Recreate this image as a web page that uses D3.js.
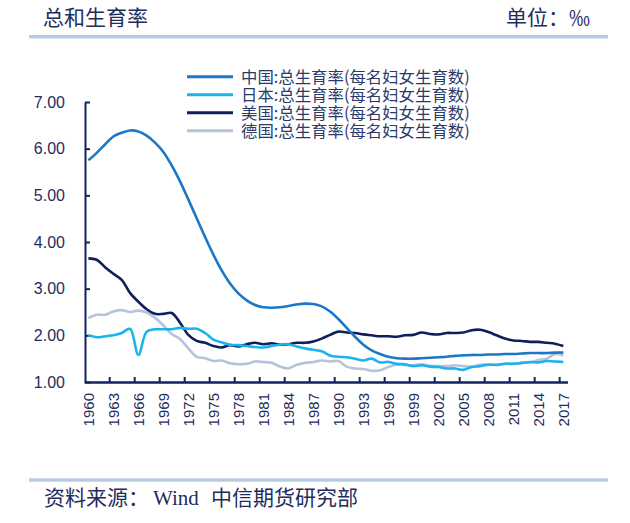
<!DOCTYPE html>
<html lang="zh">
<head>
<meta charset="UTF-8">
<title>总和生育率</title>
<style>
  body { margin: 0; background: #fff; }
  svg { display: block; }
</style>
</head>
<body>
<div id="chart"></div>
<script src="https://d3js.org/d3.v7.min.js"></script>
<script>
// years 1960..2017
var years = d3.range(1960, 2018);

var china = [5.75, 5.91, 6.09, 6.26, 6.34, 6.39, 6.37, 6.28, 6.13, 5.93,
  5.64, 5.30, 4.91, 4.51, 4.11, 3.73, 3.39, 3.11, 2.90, 2.75,
  2.65, 2.60, 2.59, 2.60, 2.63, 2.66, 2.68, 2.67, 2.62, 2.51,
  2.35, 2.16, 1.97, 1.80, 1.68, 1.60, 1.54, 1.51, 1.50, 1.50,
  1.51, 1.52, 1.53, 1.54, 1.56, 1.57, 1.58, 1.58, 1.59, 1.59,
  1.60, 1.60, 1.61, 1.62, 1.62, 1.62, 1.63, 1.63];
var japan = [2.00, 1.96, 1.98, 2.00, 2.05, 2.14, 1.58, 2.08, 2.13, 2.13,
  2.13, 2.16, 2.14, 2.14, 2.05, 1.91, 1.85, 1.80, 1.79, 1.77,
  1.75, 1.74, 1.77, 1.80, 1.81, 1.76, 1.72, 1.69, 1.66, 1.57,
  1.54, 1.53, 1.50, 1.46, 1.50, 1.42, 1.43, 1.39, 1.38, 1.34,
  1.36, 1.33, 1.32, 1.29, 1.29, 1.26, 1.32, 1.34, 1.37, 1.37,
  1.39, 1.39, 1.41, 1.43, 1.42, 1.45, 1.44, 1.43];
var usa = [3.65, 3.62, 3.46, 3.32, 3.19, 2.91, 2.72, 2.56, 2.46, 2.46,
  2.48, 2.27, 2.01, 1.88, 1.84, 1.77, 1.74, 1.79, 1.76, 1.81,
  1.84, 1.81, 1.83, 1.80, 1.81, 1.84, 1.84, 1.87, 1.93, 2.01,
  2.08, 2.06, 2.05, 2.02, 2.00, 1.98, 1.98, 1.97, 2.00, 2.01,
  2.06, 2.03, 2.02, 2.05, 2.05, 2.06, 2.11, 2.12, 2.07, 2.00,
  1.93, 1.89, 1.88, 1.86, 1.86, 1.84, 1.82, 1.77];
var germany = [2.37, 2.44, 2.44, 2.51, 2.54, 2.50, 2.53, 2.49, 2.38, 2.21,
  2.03, 1.92, 1.72, 1.54, 1.51, 1.45, 1.46, 1.40, 1.38, 1.39,
  1.44, 1.43, 1.41, 1.33, 1.29, 1.37, 1.41, 1.43, 1.46, 1.44,
  1.45, 1.33, 1.29, 1.28, 1.24, 1.25, 1.32, 1.37, 1.36, 1.36,
  1.38, 1.35, 1.34, 1.34, 1.36, 1.34, 1.33, 1.37, 1.38, 1.36,
  1.39, 1.39, 1.41, 1.42, 1.47, 1.50, 1.60, 1.57];

var seriesNames = ["中国:总生育率(每名妇女生育数)", "日本:总生育率(每名妇女生育数)",
  "美国:总生育率(每名妇女生育数)", "德国:总生育率(每名妇女生育数)"];
var seriesValues = [china, japan, usa, germany];
var colors = ["#1c78c6", "#1ab4ec", "#0e205c", "#b5c3db"];
var yTicks = [1, 2, 3, 4, 5, 6, 7];

var width = 630, height = 523;
var textColor = "#1f2d5c", axisColor = "#0f2461";
var cjk = "'Noto Sans CJK SC', sans-serif";

var svg = d3.select("#chart").append("svg")
  .attr("width", width).attr("height", height);

// header / footer
svg.append("line").attr("x1", 29).attr("x2", 608).attr("y1", 36.7).attr("y2", 36.7)
  .attr("stroke", "#b8cbdf").attr("stroke-width", 3.5);
svg.append("line").attr("x1", 29).attr("x2", 608).attr("y1", 480).attr("y2", 480)
  .attr("stroke", "#b8cbdf").attr("stroke-width", 3.5);
svg.append("text").attr("x", 43).attr("y", 25).text("总和生育率")
  .style("font-family", cjk).style("font-size", "21px").attr("fill", textColor);
svg.append("text").attr("x", 590).attr("y", 25).attr("text-anchor", "end").text("单位：‰")
  .style("font-family", cjk).style("font-size", "21px").attr("fill", textColor);
var foot = svg.append("text").attr("x", 44).attr("y", 505)
  .style("font-family", "'Liberation Serif', 'Noto Sans CJK SC', serif")
  .style("font-size", "21px").attr("fill", textColor);
foot.append("tspan").text("资料来源：");
foot.append("tspan").attr("x", 153).text("Wind");
foot.append("tspan").attr("x", 211).text("中信期货研究部");

// scales
var x = d3.scaleBand().domain(years).range([84.2, 567.5]).padding(0);
var xIdx = d3.scaleLinear().domain([0, years.length]).range([84.2, 567.5]);
var y = d3.scaleLinear().domain([1, 7]).range([382, 102]);

// y axis
var yAxis = svg.append("g").attr("transform", "translate(85,0)")
  .call(d3.axisLeft(y).tickValues(yTicks).tickFormat(d3.format(".2f"))
    .tickSizeInner(-5).tickSizeOuter(0).tickPadding(20));
yAxis.select(".domain").attr("stroke", axisColor).attr("stroke-width", 2);
yAxis.selectAll(".tick line").attr("stroke", axisColor).attr("stroke-width", 2);
yAxis.selectAll("text").attr("fill", textColor)
  .style("font-family", "'Liberation Sans', Arial, sans-serif").style("font-size", "16px");

// x axis: labels every 3 years
var xLab = svg.append("g").attr("transform", "translate(0,382)")
  .call(d3.axisBottom(x).tickValues(years.filter(function (d, i) { return i % 3 === 0; }))
    .tickSize(0));
xLab.select(".domain").remove();
xLab.selectAll("text")
  .attr("transform", "rotate(-90)")
  .attr("x", -11).attr("y", 0).attr("dy", "0.35em")
  .attr("text-anchor", "end")
  .attr("fill", textColor)
  .style("font-family", "'Liberation Sans', Arial, sans-serif").style("font-size", "15px");

// x axis: tick marks between categories
var xTk = svg.append("g").attr("transform", "translate(0,382)")
  .call(d3.axisBottom(xIdx).tickValues(d3.range(3, years.length, 3))
    .tickSizeInner(-5).tickSizeOuter(0).tickFormat(""));
xTk.select(".domain").attr("stroke", axisColor).attr("stroke-width", 2.5);
xTk.selectAll(".tick line").attr("stroke", axisColor).attr("stroke-width", 2);

// lines
var line = d3.line()
  .x(function (d, i) { return x(years[i]) + x.bandwidth() / 2; })
  .y(function (d) { return y(d); })
  .curve(d3.curveCatmullRom.alpha(0.5));

svg.append("g").selectAll("path")
  .data(seriesValues.map(function (v, i) { return { v: v, c: colors[i] }; }).reverse())
  .enter().append("path")
  .attr("d", function (d) { return line(d.v); })
  .attr("fill", "none")
  .attr("stroke", function (d) { return d.c; })
  .attr("stroke-width", 2.6)
  .attr("stroke-linejoin", "round");

// legend
var lg = svg.append("g").selectAll("g").data(seriesNames).enter().append("g")
  .attr("transform", function (d, i) { return "translate(0," + (76.7 + i * 18) + ")"; });
lg.append("line").attr("x1", 187).attr("x2", 233)
  .attr("stroke", function (d, i) { return colors[i]; }).attr("stroke-width", 3);
lg.append("text").attr("x", 241).attr("dy", "0.36em").text(function (d) { return d; })
  .style("font-family", cjk).style("font-size", "16.4px").attr("fill", "#2b3a6b");
</script>
</body>
</html>
